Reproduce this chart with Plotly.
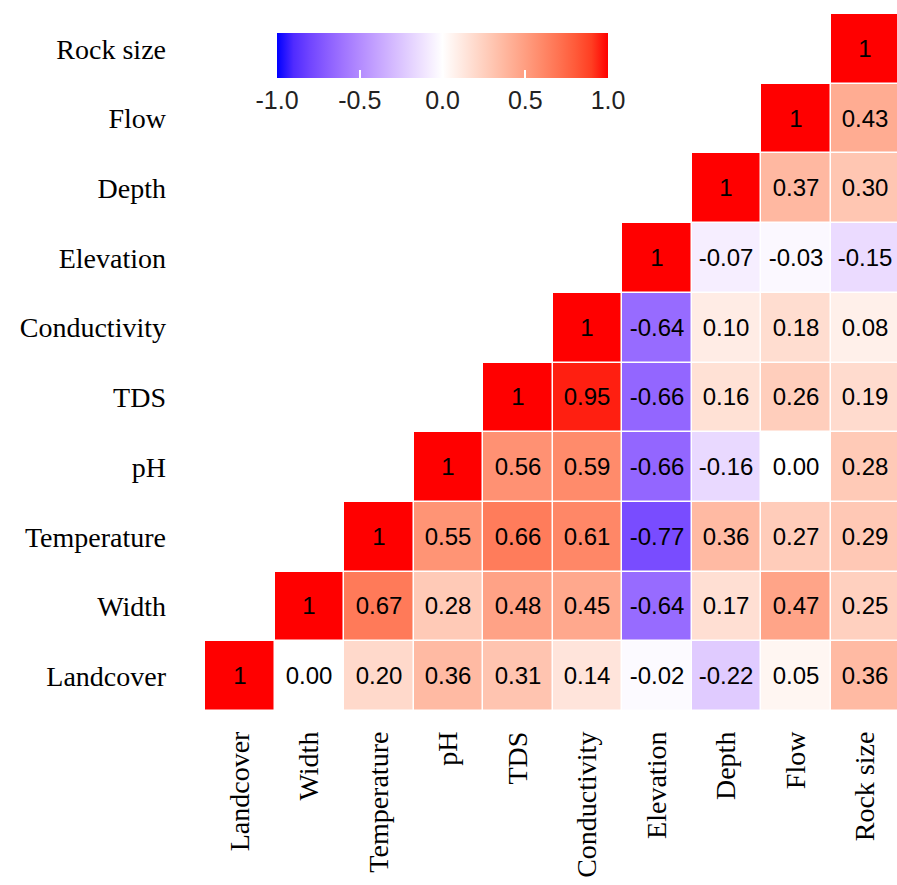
import numpy as np
import plotly.graph_objects as go

# Variables, bottom-to-top on y and left-to-right on x
variables = ["Landcover", "Width", "Temperature", "pH", "TDS",
             "Conductivity", "Elevation", "Depth", "Flow", "Rock size"]

# Upper triangle of the correlation matrix, one list per row
# (row i holds correlations with variables i .. 9)
r_landcover = [1, 0.00, 0.20, 0.36, 0.31, 0.14, -0.02, -0.22, 0.05, 0.36]
r_width = [1, 0.67, 0.28, 0.48, 0.45, -0.64, 0.17, 0.47, 0.25]
r_temperature = [1, 0.55, 0.66, 0.61, -0.77, 0.36, 0.27, 0.29]
r_ph = [1, 0.56, 0.59, -0.66, -0.16, 0.00, 0.28]
r_tds = [1, 0.95, -0.66, 0.16, 0.26, 0.19]
r_conductivity = [1, -0.64, 0.10, 0.18, 0.08]
r_elevation = [1, -0.07, -0.03, -0.15]
r_depth = [1, 0.37, 0.30]
r_flow = [1, 0.43]
r_rocksize = [1]

rows = [r_landcover, r_width, r_temperature, r_ph, r_tds,
        r_conductivity, r_elevation, r_depth, r_flow, r_rocksize]

n = len(variables)
z = [[None] * n for _ in range(n)]
labels = [[""] * n for _ in range(n)]
for i, row in enumerate(rows):
    for k, v in enumerate(row):
        j = i + k
        z[i][j] = v
        labels[i][j] = "1" if i == j else f"{v:.2f}"


# Diverging blue-white-red palette interpolated in CIELAB
def srgb_to_lab(rgb):
    c = np.asarray(rgb, float) / 255.0
    c = np.where(c <= 0.04045, c / 12.92, ((c + 0.055) / 1.055) ** 2.4)
    m = np.array([[0.4124564, 0.3575761, 0.1804375],
                  [0.2126729, 0.7151522, 0.0721750],
                  [0.0193339, 0.1191920, 0.9503041]])
    xyz = m @ c / np.array([0.95047, 1.0, 1.08883])
    f = np.where(xyz > (6 / 29) ** 3, np.cbrt(xyz), xyz / (3 * (6 / 29) ** 2) + 4 / 29)
    return np.array([116 * f[1] - 16, 500 * (f[0] - f[1]), 200 * (f[1] - f[2])])


def lab_to_srgb(lab):
    L, a, b = lab
    fy = (L + 16) / 116
    fx = fy + a / 500
    fz = fy - b / 200
    f = np.array([fx, fy, fz])
    xyz = np.where(f > 6 / 29, f ** 3, 3 * (6 / 29) ** 2 * (f - 4 / 29))
    xyz = xyz * np.array([0.95047, 1.0, 1.08883])
    m = np.array([[3.2404542, -1.5371385, -0.4985314],
                  [-0.9692660, 1.8760108, 0.0415560],
                  [0.0556434, -0.2040259, 1.0572252]])
    c = m @ xyz
    c = np.where(c <= 0.0031308, 12.92 * c, 1.055 * np.clip(c, 0, None) ** (1 / 2.4) - 0.055)
    c = np.clip(c, 0, 1)
    return tuple(int(round(v * 255)) for v in c)


low, mid, high = srgb_to_lab((0, 0, 255)), srgb_to_lab((255, 255, 255)), srgb_to_lab((255, 0, 0))
colorscale = []
steps = 20
for s in range(steps + 1):
    t = s / steps
    if t <= 0.5:
        lab = low + (mid - low) * (t / 0.5)
    else:
        lab = mid + (high - mid) * ((t - 0.5) / 0.5)
    r, g, b = lab_to_srgb(lab)
    colorscale.append([t, f"rgb({r},{g},{b})"])

W, H = 897, 885
ML, MR, MT, MB = 205, 0, 14, 174
pw, ph_ = W - ML - MR, H - MT - MB

fig = go.Figure(go.Heatmap(
    z=z,
    x=list(range(n)),
    y=list(range(n)),
    text=labels,
    texttemplate="%{text}",
    textfont=dict(family="Liberation Sans, Arial, sans-serif", size=24, color="black"),
    colorscale=colorscale,
    zmin=-1, zmax=1,
    xgap=1.5, ygap=1.5,
    hoverongaps=False,
    colorbar=dict(
        orientation="h",
        thickness=45,
        len=331, lenmode="pixels",
        x=(442.5 - ML) / pw, xanchor="center",
        y=(H - MB - 33) / ph_, yanchor="top",
        xpad=0, ypad=0,
        outlinewidth=0,
        tickvals=[-1, -0.5, 0, 0.5, 1],
        ticktext=["-1.0", "-0.5", "0.0", "0.5", "1.0"],
        ticks="inside", ticklen=8, tickcolor="white", tickwidth=2,
        tickfont=dict(family="Liberation Sans, Arial, sans-serif", size=25, color="#222222"),
    ),
))

fig.update_layout(
    width=W, height=H,
    margin=dict(l=ML, r=MR, t=MT, b=MB),
    paper_bgcolor="white", plot_bgcolor="white",
    xaxis=dict(
        tickvals=list(range(n)), ticktext=variables,
        range=[-0.5, n - 0.5 - 3 / 69.5],
        tickangle=-90, showgrid=False, zeroline=False, showline=False, ticks="",
        ticklabelstandoff=14,
        tickfont=dict(family="Liberation Serif, Times New Roman, serif", size=28, color="black"),
    ),
    yaxis=dict(
        tickvals=list(range(n)), ticktext=variables,
        range=[-0.5, n - 0.5],
        showgrid=False, zeroline=False, showline=False, ticks="",
        ticklabelstandoff=38,
        tickfont=dict(family="Liberation Serif, Times New Roman, serif", size=28, color="black"),
    ),
)

fig.write_html("out.html")
